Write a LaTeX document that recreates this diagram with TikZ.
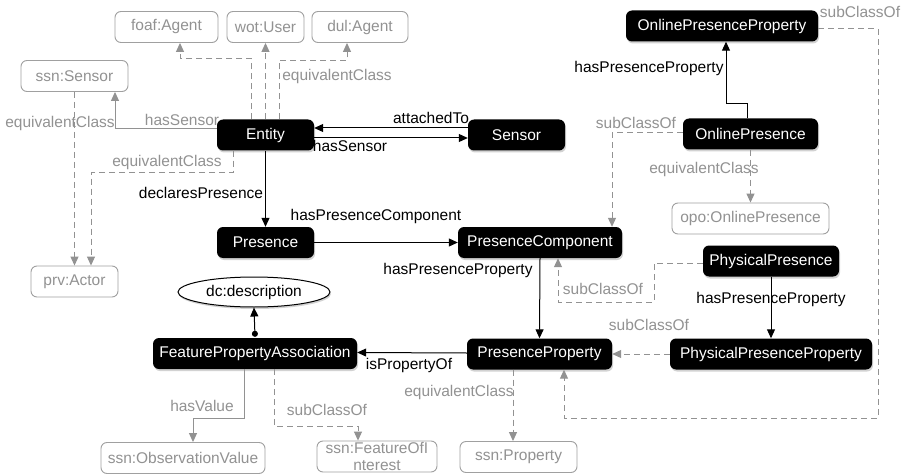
\documentclass[tikz,border=0pt]{standalone}
\usepackage{fontspec}
\setmainfont{Liberation Sans}
\usetikzlibrary{arrows.meta,shapes.geometric,shadows}
\definecolor{lg}{HTML}{929292}
\definecolor{lgb}{HTML}{A0A0A0}
\begin{document}
\begin{tikzpicture}[x=1pt,y=-1pt,
  font=\fontsize{15.5}{17}\selectfont,
  cls/.style={fill=black,text=white,rounded corners=6pt,minimum height=31pt,inner sep=0pt,
    drop shadow={shadow xshift=1pt,shadow yshift=-2pt,opacity=0.35}},
  ext/.style={draw=lgb,text=lg,fill=white,rounded corners=6pt,minimum height=31pt,inner sep=0pt,line width=0.9pt},
  rel/.style={draw=black,line width=1pt,-{Triangle[length=9pt,width=8pt]}},
  grel/.style={draw=lg,line width=1pt,-{Triangle[length=9pt,width=8pt]}},
  gdash/.style={grel,dash pattern=on 6pt off 4pt},
  bl/.style={text=black,inner sep=1pt},
  gl/.style={text=lg,inner sep=1pt}]
\useasboundingbox (0,0) rectangle (902,476);
\fill[white] (0,0) rectangle (902,476);
% external nodes
\node[ext,minimum width=103pt] (foaf) at (166.5,27) {foaf:Agent};
\node[ext,minimum width=77pt] (wot) at (265.5,27) {wot:User};
\node[ext,minimum width=96pt] (dul) at (360,27) {dul:Agent};
\node[ext,minimum width=107pt] (ssnsensor) at (74.5,76) {ssn:Sensor};
\node[ext,minimum width=87pt] (prv) at (74.5,281.5) {prv:Actor};
\node[ext,minimum width=157pt] (opo) at (750.5,218.5) {opo:OnlinePresence};
\node[ext,minimum width=164pt] (obsval) at (183,458) {ssn:ObservationValue};
\node[ext,minimum width=120pt,align=center,font=\fontsize{15.5}{17}\selectfont] (foi) at (377,456.5) {ssn:FeatureOfI\\nterest};
\node[ext,minimum width=117pt] (ssnprop) at (518.5,457) {ssn:Property};
% class nodes
\node[cls,minimum width=97pt] (entity) at (265.5,135) {Entity};
\node[cls,minimum width=97pt] (sensor) at (516.5,135) {Sensor};
\node[cls,minimum width=192pt] (opp) at (722,26) {OnlinePresenceProperty};
\node[cls,minimum width=135pt] (online) at (750.5,134) {OnlinePresence};
\node[cls,minimum width=97pt] (presence) at (265.5,242.5) {Presence};
\node[cls,minimum width=164pt] (pcomp) at (540,242.5) {PresenceComponent};
\node[cls,minimum width=136pt] (phys) at (771,261) {PhysicalPresence};
\node[cls,minimum width=145pt] (pprop) at (539.5,354) {PresenceProperty};
\node[cls,minimum width=202pt] (physprop) at (771,354) {PhysicalPresenceProperty};
\node[cls,minimum width=204pt] (fpa) at (255,353.5) {FeaturePropertyAssociation};
\node[ellipse,draw=black,line width=1pt,fill=white,minimum width=152pt,minimum height=30pt,inner sep=0pt,
  drop shadow={shadow xshift=1pt,shadow yshift=-2pt,opacity=0.35}] (dc) at (254,292) {dc:description};
% connectors
\draw[grel] ([yshift=6pt]entity.west) -| ([xshift=40.5pt]ssnsensor.south);
\draw[gdash] (ssnsensor.south) -- (prv.north);
\draw[gdash] ([xshift=-32.5pt]entity.south) -- ++(0,22) -| ([xshift=16.5pt]prv.north);
\draw[gdash] ([xshift=-14.5pt]entity.north) -- ++(0,-61) -| ([xshift=13.5pt]foaf.south);
\draw[gdash] (entity.north) -- (wot.south);
\draw[gdash] ([xshift=13.5pt]entity.north) -- ++(0,-59) -| ([xshift=-13pt]dul.south);
\draw[rel] ([yshift=7pt]sensor.west) -- ([yshift=7pt]entity.east);
\draw[rel] ([yshift=-3pt]entity.east) -- ([yshift=-3pt]sensor.west);
\draw[rel] (entity.south) -- (presence.north);
\draw[rel] (presence.east) -- (pcomp.west);
\draw[rel] (pcomp.south) -- (pprop.north);
\draw[rel] ([xshift=-3.5pt]online.north) -- ++(0,-15) -| ([xshift=4pt]opp.south);
\draw[gdash] ([yshift=1pt]online.west) -| ([xshift=72pt]pcomp.north);
\draw[gdash] (online.south) -- (opo.north);
\draw[gdash] ([yshift=-3pt]opp.east) -- (878,29) -- (878,418) -| ([xshift=24.5pt]pprop.south);
\draw[gdash] ([yshift=-2pt]phys.west) -- (654,263) -- (654,302) -| ([xshift=18pt]pcomp.south);
\draw[rel] (phys.south) -- (physprop.north);
\draw[gdash] (physprop.west) -- (pprop.east);
\draw[rel] ([yshift=1pt]pprop.west) -- ([yshift=1pt]fpa.east);
\draw[gdash] ([xshift=-26.5pt]pprop.south) -- ([xshift=-5.5pt]ssnprop.north);
\draw[draw=black,line width=1pt,{Circle[length=6pt]}-{Triangle[length=9pt,width=8pt]}] ([yshift=1pt]fpa.north) -- (dc.south);
\draw[grel] ([xshift=-11pt]fpa.south) -- ++(0,49) -| ([xshift=10pt]obsval.north);
\draw[gdash] ([xshift=19pt]fpa.south) -- ++(0,57) -| ([xshift=-19pt]foi.north);
% labels
\node[gl] (l1) at (182,120) {hasSensor};
\node[gl] (l2) at (60,123) {equivalentClass};
\node[gl] (l3) at (167,162) {equivalentClass};
\node[gl] (l4) at (337,76) {equivalentClass};
\node[bl] (l5) at (431,118) {attachedTo};
\node[bl] (l6) at (350,146) {hasSensor};
\node[bl] (l7) at (201,193) {declaresPresence};
\node[bl] (l8) at (376,216) {hasPresenceComponent};
\node[bl] (l9) at (458,270) {hasPresenceProperty};
\node[bl] (l10) at (649,68) {hasPresenceProperty};
\node[gl] (l11) at (636,123) {subClassOf};
\node[gl] (l12) at (704,169) {equivalentClass};
\node[gl] (l13) at (860,12) {subClassOf};
\node[gl] (l14) at (603,289) {subClassOf};
\node[bl] (l15) at (771,299) {hasPresenceProperty};
\node[gl] (l16) at (649,325) {subClassOf};
\node[bl] (l17) at (409,365) {isPropertyOf};
\node[gl] (l18) at (459,392) {equivalentClass};
\node[gl] (l19) at (202,406) {hasValue};
\node[gl] (l20) at (327,410) {subClassOf};
\end{tikzpicture}
\end{document}
